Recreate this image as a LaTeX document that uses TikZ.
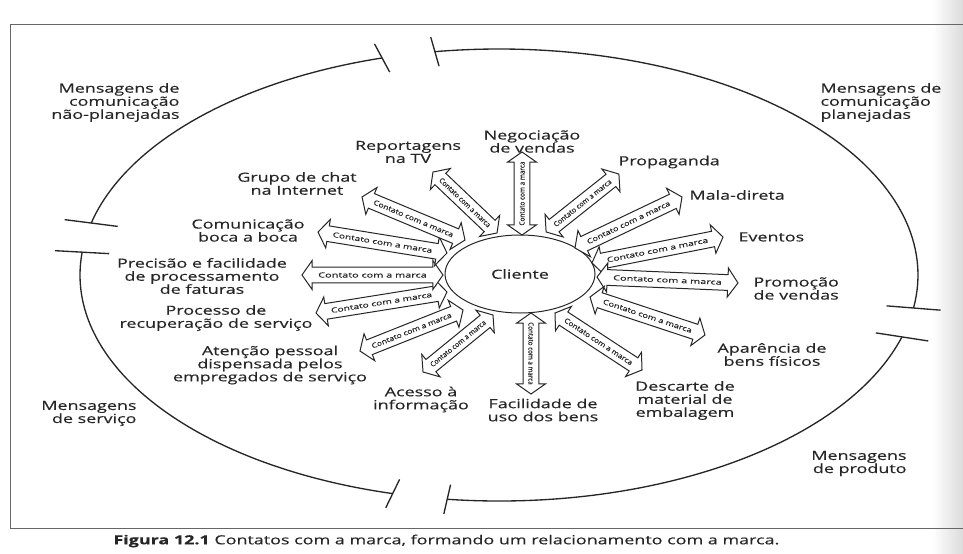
\documentclass[tikz,border=0pt]{standalone}
\usepackage{fontspec}
\setmainfont[FakeStretch=1.43, FakeBold=0.4]{Open Sans}
\usepackage{graphicx}
\usetikzlibrary{shapes.geometric,shapes.arrows}

\newcommand{\labelfont}{\fontsize{9.4pt}{9.8pt}\selectfont}
\newcommand{\cmarca}[1]{\makebox[0pt]{\resizebox{#1}{3.8pt}{Contato com a marca}}}

\tikzset{every picture/.style={line width=0.75pt}}
\tikzset{
  lbl/.style={font=\labelfont, text=black!85, align=center, inner sep=0pt},
  contato/.style={double arrow, draw=black!85, fill=white, text=black!85,
    double arrow tip angle=110, double arrow head extend=5pt,
    minimum width=0pt, inner ysep=3.6pt, inner xsep=0pt},
  outer/.style={draw=black!85, line width=1pt},
}

\begin{document}
\begin{tikzpicture}[x=0.75pt,y=0.75pt,yscale=-1,xscale=1]
\useasboundingbox (0,0) rectangle (963,553);

%Shape: Rectangle (scan shadow)
\shade [left color=white, right color=black!14] (932,0) rectangle (963,553);

%Straight Lines (frame)
\draw [color=black!60] (963,24) -- (10,24) -- (10,528) -- (963,528);

%Curve Lines
\draw [outer] (499,275) ++(193.3:419 and 226) arc [start angle=193.3, end angle=253.8, x radius=419, y radius=226];
%Curve Lines
\draw [outer] (499,275) ++(261.2:419 and 226) arc [start angle=261.2, end angle=368.4, x radius=419, y radius=226];
%Curve Lines
\draw [outer] (499,275) ++(15.9:419 and 226) arc [start angle=15.9, end angle=97.1, x radius=419, y radius=226];
%Curve Lines
\draw [outer] (499,275) ++(104.7:419 and 226) arc [start angle=104.7, end angle=185.8, x radius=419, y radius=226];

%Straight Lines (breaks)
\draw [outer] (499,275) ++(193.3:391.8 and 211.3) -- ++(193.3:54.5 and 29.4);
\draw [outer] (499,275) ++(253.8:391.8 and 211.3) -- ++(253.8:54.5 and 29.4);
\draw [outer] (499,275) ++(261.2:391.8 and 211.3) -- ++(261.2:54.5 and 29.4);
\draw [outer] (499,275) ++(8.4:391.8 and 211.3) -- ++(8.4:54.5 and 29.4);
\draw [outer] (499,275) ++(15.9:391.8 and 211.3) -- ++(15.9:54.5 and 29.4);
\draw [outer] (499,275) ++(97.1:391.8 and 211.3) -- ++(97.1:54.5 and 29.4);
\draw [outer] (499,275) ++(104.7:391.8 and 211.3) -- ++(104.7:54.5 and 29.4);
\draw [outer] (499,275) ++(185.8:391.8 and 211.3) -- ++(185.8:54.5 and 29.4);

%Shape: Ellipse
\draw (520,274) node [lbl, ellipse, draw=black!85, minimum width=112.5pt, minimum height=58.5pt] (cliente) {Cliente};

%Shape: Double Arrows
\draw (522,193.5) node [contato, rotate=90, minimum height=62.25pt] (neg-arrow) {\cmarca{48pt}};
\draw (582.5,203) node [contato, rotate=38.5, minimum height=69.75pt] (prop-arrow) {\cmarca{53.7pt}};
\draw (628.5,222.5) node [contato, rotate=25.5, minimum height=88.9pt] (mala-arrow) {\cmarca{68.4pt}};
\draw (657.5,250) node [contato, rotate=11.2, minimum height=100.2pt] (evt-arrow) {\cmarca{77.2pt}};
\draw (667.5,280) node [contato, rotate=-2.4, minimum height=105.8pt] (promo-arrow) {\cmarca{81.5pt}};
\draw (647.5,316) node [contato, rotate=-18.3, minimum height=90.8pt] (apar-arrow) {\cmarca{69.9pt}};
\draw (598.5,341.5) node [contato, rotate=-33.2, minimum height=78pt] (desc-arrow) {\cmarca{60pt}};
\draw (531,353.5) node [contato, rotate=-90, minimum height=60.75pt] (facil-arrow) {\cmarca{46.8pt}};
\draw (458,343.5) node [contato, rotate=39.2, minimum height=67.7pt] (acesso-arrow) {\cmarca{52.1pt}};
\draw (411.5,330.5) node [contato, rotate=21.7, minimum height=83.2pt] (atenc-arrow) {\cmarca{64pt}};
\draw (381.5,302.5) node [contato, rotate=9.1, minimum height=99.5pt] (proc-arrow) {\cmarca{76.6pt}};
\draw (372.5,275) node [contato, rotate=0, minimum height=105.75pt] (prec-arrow) {\cmarca{81.4pt}};
\draw (382.5,242.5) node [contato, rotate=-9.2, minimum height=98pt] (boca-arrow) {\cmarca{75.5pt}};
\draw (413.5,218.5) node [contato, rotate=-22.7, minimum height=83.7pt] (chat-arrow) {\cmarca{64.4pt}};
\draw (465,202.5) node [contato, rotate=-43.6, minimum height=66.3pt] (rep-arrow) {\cmarca{51pt}};

% Text Node
\draw (532,141.5) node [lbl] (neg) {Negociação\\de vendas};
% Text Node
\draw (618,162) node [lbl, anchor=west] (prop) {Propaganda};
% Text Node
\draw (689,195) node [lbl, anchor=west] (mala) {Mala-direta};
% Text Node
\draw (738,237) node [lbl, anchor=west] (evt) {Eventos};
% Text Node
\draw (753,288.5) node [lbl, anchor=west, align=left] (promo) {Promoção\\de vendas};
% Text Node
\draw (772,354.5) node [lbl] (apar) {Aparência de\\bens físicos};
% Text Node
\draw (685,400.5) node [lbl] (desc) {Descarte de\\material de\\embalagem};
% Text Node
\draw (543,410) node [lbl] (facil) {Facilidade de\\uso dos bens};
% Text Node
\draw (421,399.5) node [lbl] (acesso) {Acesso à\\informação};
% Text Node
\draw (270,365) node [lbl] (atenc) {Atenção pessoal\\dispensada pelos\\empregados de serviço};
% Text Node
\draw (216,318) node [lbl] (proc) {Processo de\\recuperação de serviço};
% Text Node
\draw (202,276) node [lbl] (prec) {Precisão e facilidade\\de processamento\\de faturas};
% Text Node
\draw (248,230.5) node [lbl] (boca) {Comunicação\\boca a boca};
% Text Node
\draw (297,183.5) node [lbl] (chat) {Grupo de chat\\na Internet};
% Text Node
\draw (408,152) node [lbl] (rep) {Reportagens\\na TV};

% Text Node
\draw (180,102.5) node [lbl, anchor=east, align=right] (unplan) {Mensagens de\\comunicação\\não-planejadas};
% Text Node
\draw (820,102.5) node [lbl, anchor=west, align=left] (plan) {Mensagens de\\comunicação\\planejadas};
% Text Node
\draw (137,413.5) node [lbl, anchor=east, align=right] (serv) {Mensagens\\de serviço};
% Text Node
\draw (907,463.5) node [lbl, anchor=east, align=right] (prod) {Mensagens\\de produto};

% Text Node
\draw (113,541) node [lbl, anchor=west] (caption) {\textbf{Figura 12.1} Contatos com a marca, formando um relacionamento com a marca.};

\end{tikzpicture}
\end{document}
